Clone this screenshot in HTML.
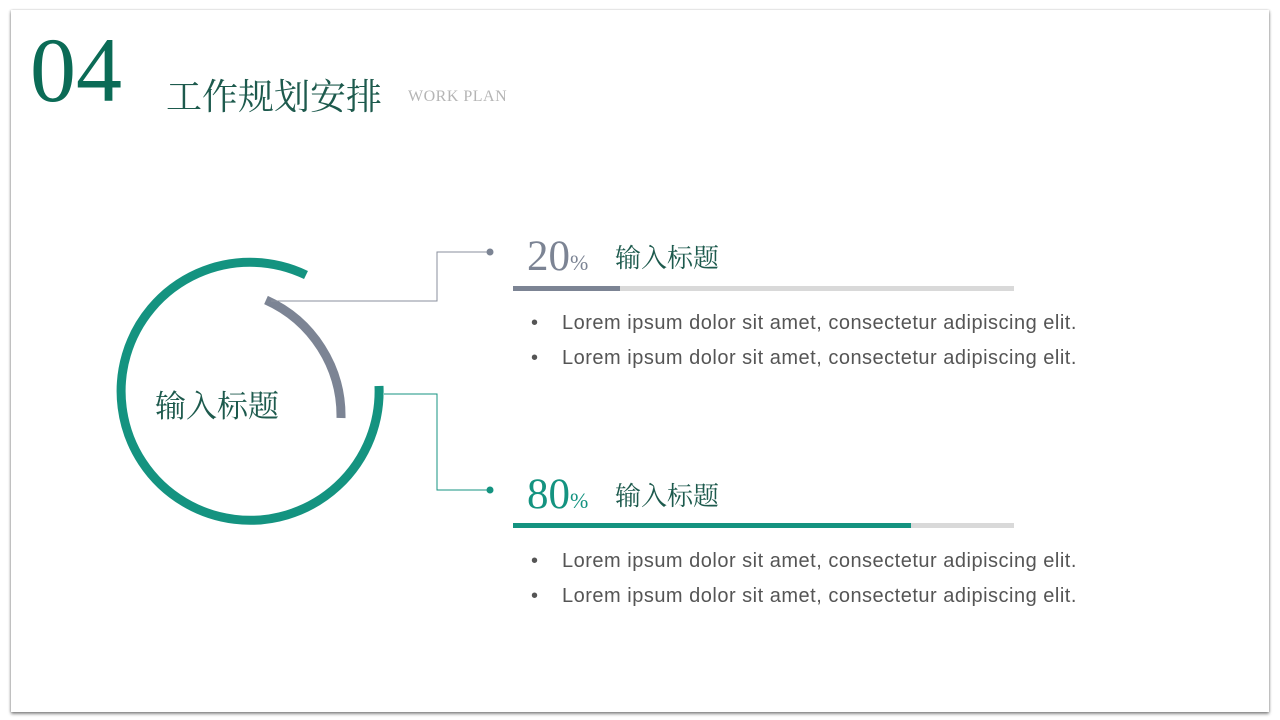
<!DOCTYPE html>
<html><head><meta charset="utf-8"><style>
html,body{margin:0;padding:0;background:#fff;width:1280px;height:720px;overflow:hidden;position:relative}
.slide{position:absolute;left:11px;top:10px;width:1258px;height:702px;background:#fff;box-shadow:0 2px 3px rgba(0,0,0,.45),-1px 0 2px rgba(0,0,0,.12),1px 0 2px rgba(0,0,0,.12)}
.t{position:absolute;white-space:nowrap}
.serif{font-family:"Liberation Serif","Noto Serif CJK SC",serif}
.cjk{font-family:"Noto Serif CJK SC","WenQuanYi Zen Hei",serif}
.li{font-family:"Liberation Sans",sans-serif;font-size:20px;letter-spacing:0.5px;color:#555;font-weight:300}
</style></head><body>
<div class="slide"></div>
<div class="t serif" style="left:30px;top:20px;font-size:92px;color:#0b6b56;line-height:100px">04</div>
<div class="t cjk" style="left:166px;top:73px;font-size:36px;color:#1d5a4d;line-height:44px">工作规划安排</div>
<div class="t serif" style="left:408px;top:86px;font-size:16px;letter-spacing:0.5px;color:#b5b5b5;line-height:22px">WORK PLAN</div>

<svg style="position:absolute;left:0;top:0" width="1280" height="720">
<path d="M379 386 A129 129 0 1 1 306 275" fill="none" stroke="#149380" stroke-width="9"/>
<path d="M266 300 A127 127 0 0 1 341 418" fill="none" stroke="#7c8494" stroke-width="9"/>
<polyline points="271,301 437,301 437,252 490,252" fill="none" stroke="#8a8f9c" stroke-width="1"/>
<circle cx="490" cy="252" r="3.5" fill="#7c8494"/>
<polyline points="384,394 437,394 437,490 490,490" fill="none" stroke="#149380" stroke-width="1"/>
<circle cx="490" cy="490" r="3.5" fill="#149380"/>
<rect x="513" y="286" width="501" height="5" fill="#d9d9d9"/>
<rect x="513" y="286" width="107" height="5" fill="#7c8494"/>
<rect x="513" y="523" width="501" height="5" fill="#d9d9d9"/>
<rect x="513" y="523" width="398" height="5" fill="#149380"/>
</svg>

<div class="t cjk" style="left:155px;top:384px;font-size:31px;color:#1d5a4d;line-height:40px">输入标题</div>

<div class="t serif" style="left:527px;top:233px;font-size:43px;color:#7c8494;line-height:48px">20<span style="font-size:22px">%</span></div>
<div class="t cjk" style="left:615px;top:240px;font-size:26px;color:#1d5a4d;line-height:34px">输入标题</div>
<div class="t li" style="left:531px;top:312px">•</div><div class="t li" style="left:562px;top:312px">Lorem ipsum dolor sit amet, consectetur adipiscing elit.</div>
<div class="t li" style="left:531px;top:347px">•</div><div class="t li" style="left:562px;top:347px">Lorem ipsum dolor sit amet, consectetur adipiscing elit.</div>

<div class="t serif" style="left:527px;top:471px;font-size:43px;color:#149380;line-height:48px">80<span style="font-size:22px">%</span></div>
<div class="t cjk" style="left:615px;top:478px;font-size:26px;color:#1d5a4d;line-height:34px">输入标题</div>
<div class="t li" style="left:531px;top:550px">•</div><div class="t li" style="left:562px;top:550px">Lorem ipsum dolor sit amet, consectetur adipiscing elit.</div>
<div class="t li" style="left:531px;top:585px">•</div><div class="t li" style="left:562px;top:585px">Lorem ipsum dolor sit amet, consectetur adipiscing elit.</div>
</body></html>
